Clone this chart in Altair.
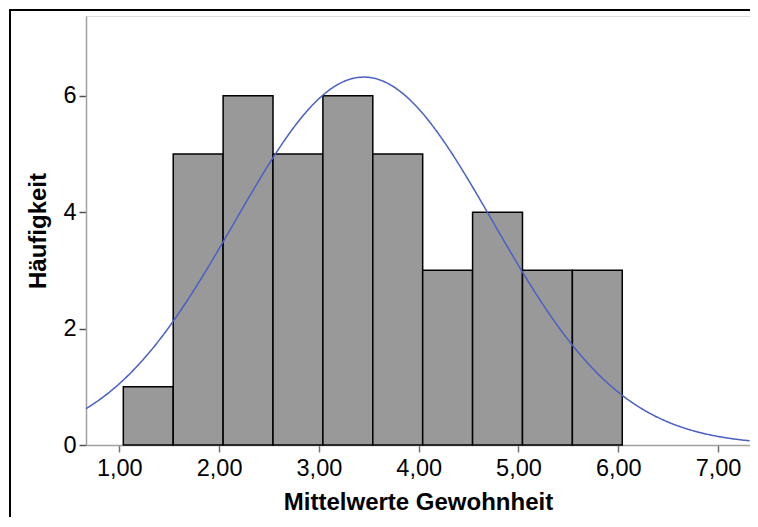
import altair as alt
import pandas as pd

# Histogram data
bin_starts = [1.04, 1.54, 2.04, 2.54, 3.04, 3.54, 4.04, 4.54, 5.04, 5.54]
bin_ends = [1.54, 2.04, 2.54, 3.04, 3.54, 4.04, 4.54, 5.04, 5.54, 6.04]
counts = [1, 5, 6, 5, 6, 5, 3, 4, 3, 3]

# Normal curve parameters (fitted curve shown in the picture)
curve_mean = 3.45
curve_sd = 1.294
n_total = 41
bin_width = 0.5

x_ticks = [1, 2, 3, 4, 5, 6, 7]
y_ticks = [0, 2, 4, 6]
x_domain = [0.666, 7.32]
y_domain = [0, 7.37]

FONT = "Liberation Sans"

bars_df = pd.DataFrame({"start": bin_starts, "end": bin_ends, "count": counts})

x_scale = alt.Scale(domain=x_domain, nice=False, zero=False)
y_scale = alt.Scale(domain=y_domain, nice=False, zero=True)

x_axis = alt.Axis(
    values=x_ticks,
    labelExpr="replace(format(datum.value, '.2f'), '.', ',')",
    title="Mittelwerte Gewohnheit",
    grid=False,
    domainColor="#a0a0a0",
    domainWidth=1.5,
    tickColor="#707070",
    tickWidth=1.5,
    tickSize=7,
    labelFontSize=23.5,
    labelFont=FONT,
    labelColor="black",
    labelPadding=4,
    titleFont=FONT,
    titleFontSize=24,
    titleFontWeight="bold",
    titleColor="black",
    titlePadding=11,
)
y_axis = alt.Axis(
    values=y_ticks,
    format="d",
    title="Häufigkeit",
    grid=False,
    domainColor="#a0a0a0",
    domainWidth=1.5,
    tickColor="#505050",
    tickWidth=1.5,
    tickSize=7,
    labelFontSize=23.5,
    labelFont=FONT,
    labelColor="black",
    labelPadding=3,
    titleFont=FONT,
    titleFontSize=24,
    titleFontWeight="bold",
    titleColor="black",
    titlePadding=12,
)

frame = alt.Chart(pd.DataFrame({"a": [0]})).mark_rect(
    filled=False, stroke="black", strokeWidth=2
).encode(
    x=alt.value(-76), x2=alt.value(700), y=alt.value(-6), y2=alt.value(560)
)

bars = alt.Chart(bars_df).mark_rect(
    color="#999999", stroke="black", strokeWidth=1.5
).encode(
    x=alt.X("start:Q", scale=x_scale, axis=x_axis),
    x2="end:Q",
    y=alt.Y("count:Q", scale=y_scale, axis=y_axis),
    y2=alt.datum(0),
)

curve = alt.Chart(alt.sequence(x_domain[0], x_domain[1] + 0.005, 0.01, as_="x")).transform_calculate(
    y=f"{n_total}*{bin_width}*exp(-0.5*pow((datum.x-{curve_mean})/{curve_sd},2))/({curve_sd}*sqrt(2*PI))"
).mark_line(color="#4a60c4", strokeWidth=1.5).encode(
    x=alt.X("x:Q", scale=x_scale),
    y=alt.Y("y:Q", scale=y_scale),
)

chart = alt.layer(frame, bars, curve).properties(
    width=664,
    height=429,
    autosize="none",
    padding={"left": 78, "top": 8, "right": 0, "bottom": 72},
).configure_view(stroke=None).configure(background="white")

chart.save("out.html", embed_options={"renderer": "svg", "actions": False})
